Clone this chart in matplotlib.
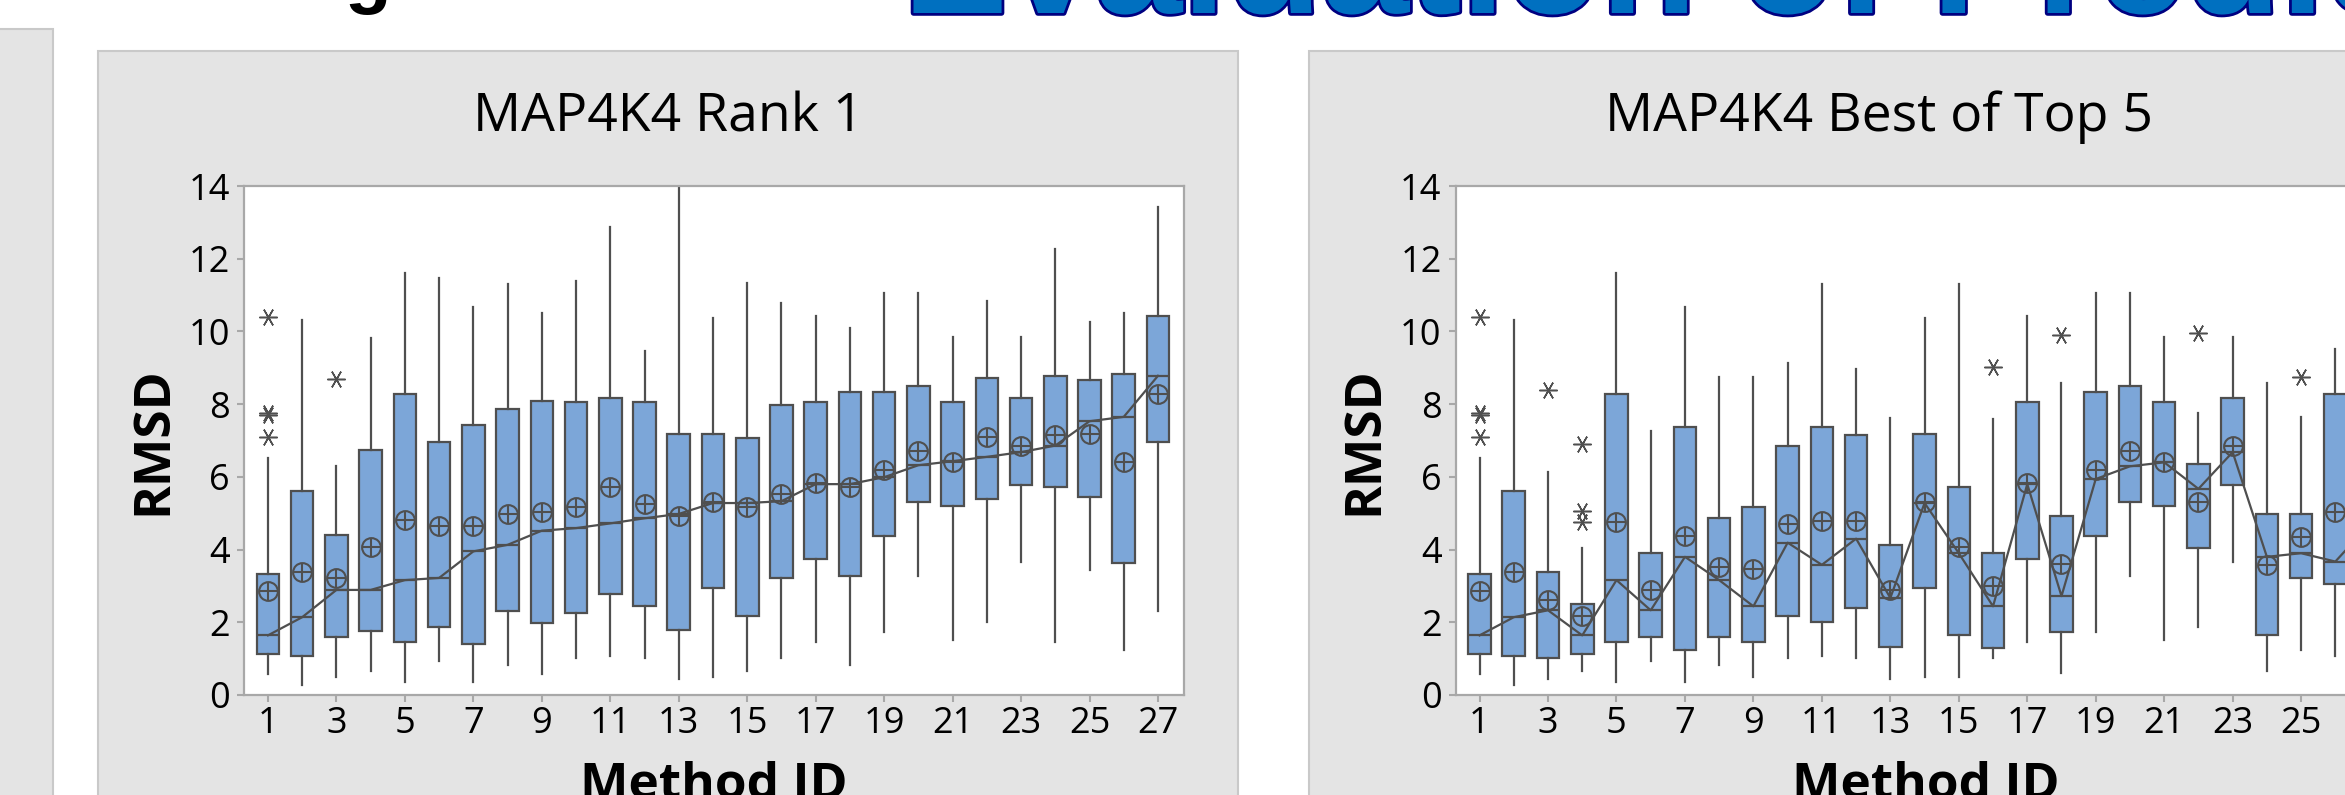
import matplotlib
matplotlib.use("Agg")
import matplotlib.pyplot as plt
from matplotlib.patches import Rectangle
import matplotlib.patheffects as pe

plt.rcParams['font.family'] = ['Open Sans', 'DejaVu Sans']

W, H = 2345, 795

METHOD_IDS = list(range(1, 28))
XTICKS = list(range(1, 28, 2))
YTICKS = list(range(0, 15, 2))

# MAP4K4 Rank 1 (box stats per method)
R1_LOW = [0.59, 0.27, 0.49, 0.66, 0.37, 0.93, 0.37, 0.83, 0.59, 1.01, 1.06, 1.01, 0.44, 0.49,
          0.66, 1.01, 1.45, 0.82, 1.74, 3.27, 1.51, 2.01, 3.66, 1.45, 3.44, 1.23, 2.30]
R1_Q1 = [1.12, 1.07, 1.59, 1.75, 1.47, 1.87, 1.40, 2.31, 1.97, 2.25, 2.77, 2.44, 1.80, 2.95,
         2.16, 3.23, 3.73, 3.27, 4.36, 5.32, 5.21, 5.38, 5.78, 5.73, 5.44, 3.62, 6.96]
R1_MED = [1.64, 2.14, 2.89, 2.89, 3.16, 3.22, 3.95, 4.13, 4.52, 4.59, 4.72, 4.86, 4.98, 5.28,
          5.28, 5.33, 5.80, 5.80, 5.99, 6.32, 6.43, 6.55, 6.68, 6.86, 7.53, 7.65, 8.78]
R1_Q3 = [3.34, 5.60, 4.41, 6.74, 8.27, 6.97, 7.43, 7.88, 8.10, 8.05, 8.16, 8.05, 7.19, 7.19,
         7.08, 7.99, 8.05, 8.33, 8.33, 8.50, 8.05, 8.72, 8.16, 8.78, 8.66, 8.84, 10.42]
R1_HIGH = [6.53, 10.31, 6.29, 9.81, 11.62, 11.46, 10.66, 11.30, 10.51, 11.39, 12.87, 9.46, 14.0, 10.38,
           11.34, 10.78, 10.43, 10.10, 11.06, 11.06, 9.86, 10.83, 9.86, 12.26, 10.27, 10.51, 13.41]
R1_MEAN = [2.87, 3.39, 3.22, 4.07, 4.81, 4.65, 4.65, 4.98, 5.04, 5.16, 5.73, 5.26, 4.93, 5.32,
           5.16, 5.54, 5.83, 5.73, 6.19, 6.70, 6.40, 7.09, 6.86, 7.14, 7.19, 6.40, 8.27]
R1_OUTLIERS = {1: [7.1, 7.7, 7.75, 10.4], 3: [8.7]}

# MAP4K4 Best of Top 5
T5_LOW = [0.59, 0.27, 0.44, 0.66, 0.37, 0.93, 0.37, 0.83, 0.49, 1.01, 1.06, 1.01, 0.44, 0.49,
          0.49, 1.01, 1.45, 0.61, 1.74, 3.27, 1.51, 1.87, 3.66, 0.66, 1.23, 1.06, 1.20]
T5_Q1 = [1.12, 1.07, 1.01, 1.12, 1.47, 1.59, 1.25, 1.59, 1.47, 2.16, 2.02, 2.38, 1.31, 2.95,
         1.64, 1.30, 3.73, 1.74, 4.36, 5.32, 5.21, 4.03, 5.78, 1.64, 3.23, 3.05, 2.50]
T5_MED = [1.64, 2.14, 2.33, 1.64, 3.16, 2.33, 3.80, 3.16, 2.44, 4.19, 3.58, 4.30, 2.67, 5.28,
          3.90, 2.44, 5.80, 2.72, 5.94, 6.29, 6.40, 5.67, 6.68, 3.80, 3.90, 3.67, 4.70]
T5_Q3 = [3.34, 5.60, 3.39, 2.49, 8.27, 3.91, 7.37, 4.86, 5.16, 6.86, 7.37, 7.14, 4.13, 7.19,
         5.73, 3.90, 8.05, 4.93, 8.33, 8.50, 8.05, 6.36, 8.16, 4.98, 4.98, 8.27, 7.50]
T5_HIGH = [6.53, 10.31, 6.12, 4.03, 11.62, 7.25, 10.66, 8.74, 8.74, 9.14, 11.30, 8.97, 7.61, 10.38,
           11.30, 7.59, 10.43, 8.57, 11.06, 11.06, 9.86, 7.76, 9.86, 8.57, 7.66, 9.53, 11.00]
T5_MEAN = [2.87, 3.39, 2.60, 2.16, 4.76, 2.88, 4.37, 3.52, 3.46, 4.70, 4.79, 4.79, 2.88, 5.32,
           4.08, 3.00, 5.83, 3.61, 6.19, 6.70, 6.40, 5.32, 6.86, 3.57, 4.35, 5.04, 5.00]
T5_OUTLIERS = {1: [7.1, 7.7, 7.75, 10.4], 3: [8.39], 4: [4.76, 5.06, 6.90], 16: [9.01],
               18: [9.90], 22: [9.97], 25: [8.76]}

BOX_FILL = '#7CA6D8'
LINE = '#4F4F4F'
SPINE = '#A8A8A8'
PANEL = '#E4E4E4'
PANEL_EDGE = '#C9C9C9'


def make_stats(low, q1, med, q3, high, mean, outliers):
    stats = []
    for i, mid in enumerate(METHOD_IDS):
        stats.append(dict(whislo=low[i], q1=q1[i], med=med[i], q3=q3[i], whishi=high[i],
                          mean=mean[i], fliers=outliers.get(mid, [])))
    return stats


def draw_panel(fig, dx, title, stats, med, mean):
    # gray panel behind the chart
    fig.add_artist(Rectangle((97.7 / W + dx, -0.05), 1140 / W, (795 - 50.7) / H + 0.05,
                             transform=fig.transFigure, facecolor=PANEL, edgecolor=PANEL_EDGE,
                             lw=1.5, zorder=0))
    ax = fig.add_axes([244 / W + dx, 1 - 695 / H, 940 / W, 509 / H])
    ax.set_zorder(2)
    ax.set_facecolor('white')

    ax.bxp(stats, positions=METHOD_IDS, widths=0.66, patch_artist=True, showmeans=True,
           showcaps=False,
           boxprops=dict(facecolor=BOX_FILL, edgecolor=LINE, lw=1.6),
           medianprops=dict(color=LINE, lw=1.6),
           whiskerprops=dict(color=LINE, lw=1.6),
           meanprops=dict(marker='o', markerfacecolor='none', markeredgecolor=LINE,
                          markersize=13.5, markeredgewidth=1.5),
           flierprops=dict(marker=(6, 2, 90), markeredgecolor=LINE, markersize=13,
                           markeredgewidth=1.1, linestyle='none'),
           manage_ticks=False)
    ax.plot(METHOD_IDS, med, color=LINE, lw=1.6, zorder=3)
    ax.plot(METHOD_IDS, mean, linestyle='none', marker='+', color=LINE,
            markersize=13.5, markeredgewidth=1.5, zorder=4)

    ax.set_xlim(0.30, 27.76)
    ax.set_ylim(0, 14)
    ax.set_xticks(XTICKS)
    ax.set_yticks(YTICKS)
    for s in ax.spines.values():
        s.set_color(SPINE)
        s.set_linewidth(1.6)
    ax.tick_params(direction='out', length=5, width=1.5, color=SPINE, labelsize=26,
                   labelcolor='black')
    ax.tick_params(axis='y', pad=5)
    ax.tick_params(axis='x', pad=3)

    cx = 667.7 / W + dx
    fig.text(cx, 1 - 131 / H, title, ha='center', va='baseline', fontsize=38.5, zorder=3)
    fig.text(166 / W + dx, 1 - 440.5 / H, 'RMSD', rotation=90, rotation_mode='anchor',
             ha='center', va='baseline', fontsize=37, fontweight='bold', zorder=3)
    fig.text(714 / W + dx, 1 - 799 / H, 'Method ID', ha='center', va='baseline',
             fontsize=37, fontweight='bold', zorder=3)
    return ax


fig = plt.figure(figsize=(W / 100, H / 100), dpi=100)
fig.patch.set_facecolor('white')

# left strip of the neighbouring slide panel
fig.add_artist(Rectangle((-0.01, -0.05), 0.01 + 53.3 / W, (795 - 29) / H + 0.05,
                         transform=fig.transFigure, facecolor=PANEL, edgecolor=PANEL_EDGE,
                         lw=1.5, zorder=0))

# slide headline, mostly above the crop
fig.text(392 / W, 1 + 1 / H, 'Docking', ha='right', va='baseline', fontsize=55,
         family='Liberation Sans', fontweight='bold', color='black')
fig.text(903 / W, 1 - 13 / H, 'Evaluation of Predictions', ha='left', va='baseline',
         fontsize=113, family='Liberation Sans', fontweight='bold', color='#0070C0',
         path_effects=[pe.withStroke(linewidth=4, foreground='#000080')])

draw_panel(fig, 0, 'MAP4K4 Rank 1',
           make_stats(R1_LOW, R1_Q1, R1_MED, R1_Q3, R1_HIGH, R1_MEAN, R1_OUTLIERS),
           R1_MED, R1_MEAN)
draw_panel(fig, 1211.6 / W, 'MAP4K4 Best of Top 5',
           make_stats(T5_LOW, T5_Q1, T5_MED, T5_Q3, T5_HIGH, T5_MEAN, T5_OUTLIERS),
           T5_MED, T5_MEAN)

fig.savefig('out.png', dpi=100)
